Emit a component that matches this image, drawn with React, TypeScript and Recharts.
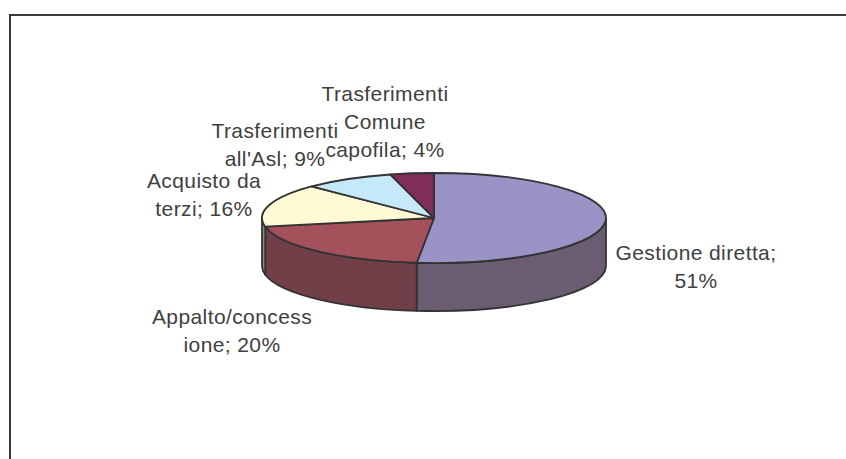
import React from "react";
import { PieChart, Pie, Cell } from "recharts";

const categories = [
  "Gestione diretta",
  "Appalto/concessione",
  "Acquisto da terzi",
  "Trasferimenti all'Asl",
  "Trasferimenti Comune capofila",
];
const shares = [51.6, 20.3, 15.5, 8.5, 4.1];
const topColors = ["#9b93c6", "#a5515c", "#fffad6", "#c6e9fa", "#802d58"];
const wallColors = ["#6a5d72", "#713f48", "#8f8c70", "#6f8c9a", "#4a2030"];
// wrapped the way the original chart breaks its labels
const labelLines = [
  ["Gestione diretta;", "51%"],
  ["Appalto/concess", "ione; 20%"],
  ["Acquisto da", "terzi; 16%"],
  ["Trasferimenti", "all'Asl; 9%"],
  ["Trasferimenti", "Comune", "capofila; 4%"],
];

const data = categories.map((name, i) => ({ name, value: shares[i] }));

const WIDTH = 846;
const HEIGHT = 459;
const CX = 434;
const CY = 218;
const RX = 172;
const RY = 45;
const DEPTH = 48;
const EDGE = "#333333";

// label centre x and first baseline, relative to pie centre
const labelPos = [
  { dx: 262, dy: 42 },
  { dx: -202, dy: 106 },
  { dx: -230, dy: -30 },
  { dx: -159, dy: -80 },
  { dx: -49, dy: -117 },
];

const pt = (deg: number, cx: number, cy: number, dy = 0) => {
  const a = (deg * Math.PI) / 180;
  return [cx + RX * Math.cos(a), cy - RY * Math.sin(a) + dy];
};

// top face of a slice, the circular sector squashed to an ellipse
const TopSlice = (props: any) => {
  const { cx, cy, startAngle, endAngle, fill } = props;
  const [x0, y0] = pt(startAngle, cx, cy);
  const [x1, y1] = pt(endAngle, cx, cy);
  const large = Math.abs(endAngle - startAngle) > 180 ? 1 : 0;
  return (
    <path
      d={`M${cx},${cy}L${x0},${y0}A${RX},${RY} 0 ${large} 1 ${x1},${y1}Z`}
      fill={fill}
      stroke={EDGE}
      strokeWidth={1.8}
      strokeLinejoin="round"
    />
  );
};

// outer wall, only the part of the arc on the front half is visible
const WallSlice = (props: any) => {
  const { cx, cy, startAngle, endAngle, fill } = props;
  const hi = Math.max(startAngle, endAngle);
  const lo = Math.min(startAngle, endAngle);
  // front half runs from -180 to 0 in recharts angles
  const a = Math.min(hi, 0);
  const b = Math.max(lo, -180);
  if (a <= b) return <g />;
  const [x0, y0] = pt(a, cx, cy);
  const [x1, y1] = pt(b, cx, cy);
  return (
    <path
      d={`M${x0},${y0}A${RX},${RY} 0 0 1 ${x1},${y1}L${x1},${y1 + DEPTH}A${RX},${RY} 0 0 0 ${x0},${y0 + DEPTH}Z`}
      fill={fill}
      stroke={EDGE}
      strokeWidth={1.8}
      strokeLinejoin="round"
    />
  );
};

const renderLabel = (props: any) => {
  const { index, cx, cy } = props;
  const pos = labelPos[index];
  return (
    <text
      key={index}
      x={cx + pos.dx}
      y={cy + pos.dy}
      textAnchor="middle"
      fill="#404040"
      fontFamily="Liberation Sans, Arial, sans-serif"
      fontSize={21}
      letterSpacing={0.4}
    >
      {labelLines[index].map((line, i) => (
        <tspan key={i} x={cx + pos.dx} dy={i === 0 ? 0 : 28}>
          {line}
        </tspan>
      ))}
    </text>
  );
};

const App = () => {
  return (
    <div style={{ position: "absolute", left: 0, top: 0, width: WIDTH, height: HEIGHT, overflow: "hidden", background: "#fff" }}>
      {/* frame runs off the right and bottom of the picture */}
      <div
        style={{
          position: "absolute",
          left: 9,
          top: 14,
          width: 900,
          height: 500,
          border: "2px solid #3a3a3e",
        }}
      />
      <div style={{ position: "absolute", left: 0, top: 0 }}>
        <PieChart width={WIDTH} height={HEIGHT} margin={{ top: 0, right: 0, bottom: 0, left: 0 }}>
          <Pie
            data={data}
            dataKey="value"
            cx={CX}
            cy={CY}
            outerRadius={RX}
            startAngle={90}
            endAngle={-270}
            shape={WallSlice}
            stroke="none"
            isAnimationActive={false}
          >
            {data.map((d, i) => (
              <Cell key={d.name} fill={wallColors[i]} />
            ))}
          </Pie>
          <Pie
            data={data}
            dataKey="value"
            cx={CX}
            cy={CY}
            outerRadius={RX}
            startAngle={90}
            endAngle={-270}
            shape={TopSlice}
            label={renderLabel}
            labelLine={false}
            isAnimationActive={false}
          >
            {data.map((d, i) => (
              <Cell key={d.name} fill={topColors[i]} />
            ))}
          </Pie>
        </PieChart>
      </div>
    </div>
  );
};

export default App;
